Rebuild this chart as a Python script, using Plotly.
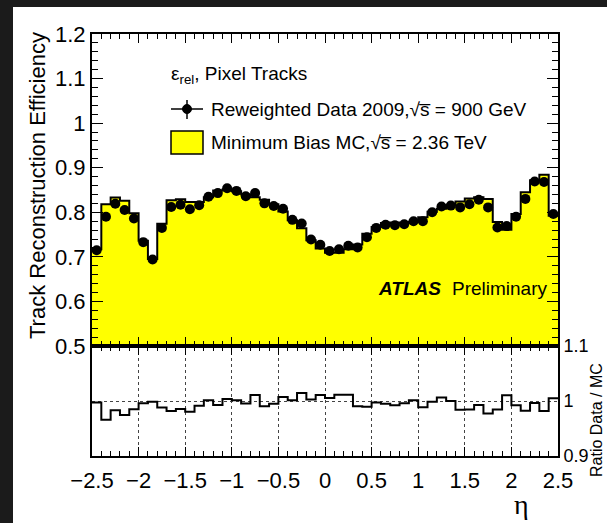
import plotly.graph_objects as go

# ---------------- data ----------------
bin_edges = [round(-2.5 + 0.1 * i, 2) for i in range(51)]
bin_centers = [round(-2.45 + 0.1 * i, 2) for i in range(50)]

data_eff = [0.715, 0.790, 0.819, 0.805, 0.786, 0.733, 0.694, 0.765, 0.812, 0.817,
            0.807, 0.816, 0.835, 0.843, 0.854, 0.848, 0.836, 0.843, 0.820, 0.814,
            0.808, 0.783, 0.775, 0.739, 0.727, 0.713, 0.717, 0.725, 0.721, 0.744,
            0.765, 0.772, 0.771, 0.773, 0.780, 0.780, 0.800, 0.813, 0.815, 0.811,
            0.818, 0.828, 0.811, 0.766, 0.769, 0.790, 0.830, 0.869, 0.868, 0.796]

mc_eff = [0.717, 0.818, 0.833, 0.826, 0.798, 0.736, 0.695, 0.774, 0.827, 0.829,
          0.823, 0.823, 0.834, 0.849, 0.851, 0.847, 0.840, 0.834, 0.828, 0.818,
          0.802, 0.782, 0.764, 0.737, 0.719, 0.709, 0.709, 0.717, 0.728, 0.752,
          0.767, 0.776, 0.777, 0.776, 0.779, 0.789, 0.801, 0.808, 0.815, 0.824,
          0.831, 0.834, 0.830, 0.778, 0.761, 0.796, 0.845, 0.872, 0.884, 0.792]

ratio = [d / m for d, m in zip(data_eff, mc_eff)]

main_ticks = [0.5, 0.6, 0.7, 0.8, 0.9, 1.0, 1.1, 1.2]
main_ticktext = ["0.5", "0.6", "0.7", "0.8", "0.9", "1", "1.1", "1.2"]
x_ticks = [-2.5, -2, -1.5, -1, -0.5, 0, 0.5, 1, 1.5, 2, 2.5]
x_ticktext = ["\u22122.5", "\u22122", "\u22121.5", "\u22121", "\u22120.5", "0",
              "0.5", "1", "1.5", "2", "2.5"]
ratio_ticks = [0.9, 1.0, 1.1]
ratio_ticktext = ["0.9", "1", "1.1"]

# ---------------- layout helpers ----------------
W, H = 607, 523
def px(x):
    return x / W
def py(y):
    return 1 - y / H

FONT = "Liberation Sans, Arial, Helvetica, sans-serif"
XL, XR = 92, 558
Y_TOP, Y_MID, Y_BOT = 34, 346, 456

fig = go.Figure()

# MC histogram (step, filled)
fig.add_trace(go.Scatter(
    x=bin_edges, y=mc_eff + [mc_eff[-1]],
    mode="lines", line=dict(shape="hv", color="black", width=2),
    fill="tozeroy", fillcolor="#ffff00",
    xaxis="x", yaxis="y", showlegend=False, hoverinfo="skip"))

# data points
fig.add_trace(go.Scatter(
    x=bin_centers, y=data_eff, mode="markers",
    marker=dict(color="black", size=10),
    xaxis="x", yaxis="y", showlegend=False))

# ratio
fig.add_trace(go.Scatter(
    x=bin_edges, y=ratio + [ratio[-1]],
    mode="lines", line=dict(shape="hv", color="black", width=2),
    xaxis="x2", yaxis="y2", showlegend=False))

xdom = [px(XL), px(XR)]
common_x = dict(range=[-2.5, 2.5], domain=xdom, showline=True, linecolor="black",
                linewidth=2, mirror="ticks", ticks="inside", ticklen=9,
                tickcolor="black", tickwidth=1, tickvals=x_ticks,
                minor=dict(ticks="inside", ticklen=5, dtick=0.1, tick0=-2.5,
                           tickcolor="black", tickwidth=1),
                zeroline=False, automargin=False)

fig.update_layout(
    width=W, height=H,
    margin=dict(l=0, r=0, t=0, b=0, autoexpand=False),
    paper_bgcolor="#1b1b1b", plot_bgcolor="white",
    font=dict(family=FONT, color="black"),
    xaxis=dict(common_x, anchor="y", showticklabels=False, showgrid=False),
    yaxis=dict(range=[0.5, 1.2], domain=[py(Y_MID), py(Y_TOP)], showline=True,
               linecolor="black", linewidth=2, mirror="ticks", ticks="inside",
               ticklen=11, tickcolor="black", tickwidth=1,
               tickvals=main_ticks, ticktext=main_ticktext,
               tickfont=dict(size=22, family=FONT, color="black"),
               minor=dict(ticks="inside", ticklen=6, dtick=0.02, tick0=0.5,
                          tickcolor="black", tickwidth=1),
               showgrid=False, zeroline=False, anchor="x", automargin=False),
    xaxis2=dict(common_x, anchor="y2", showticklabels=True, ticktext=x_ticktext,
                tickfont=dict(size=22, family=FONT, color="black"),
                ticklabelstandoff=4,
                showgrid=True, gridcolor="#444444", griddash="dot", gridwidth=1),
    yaxis2=dict(range=[0.9, 1.1], domain=[py(Y_BOT), py(Y_MID)], side="right",
                showline=True, linecolor="black", linewidth=2, mirror=True,
                ticks="", tickvals=ratio_ticks, ticktext=ratio_ticktext,
                tickfont=dict(size=18, family=FONT, color="black"),
                showgrid=True, gridcolor="#444444", griddash="dot", gridwidth=1,
                zeroline=False, anchor="x2", automargin=False),
)

shapes = []
# white canvas
shapes.append(dict(type="rect", xref="paper", yref="paper", layer="below",
                   x0=px(13), x1=px(W), y0=py(H), y1=py(7),
                   fillcolor="white", line=dict(width=0)))
# legend: data marker with error bar
shapes.append(dict(type="line", xref="paper", yref="paper",
                   x0=px(171), x1=px(203), y0=py(109), y1=py(109),
                   line=dict(color="black", width=1.5)))
shapes.append(dict(type="line", xref="paper", yref="paper",
                   x0=px(187), x1=px(187), y0=py(100), y1=py(119),
                   line=dict(color="black", width=1.5)))
shapes.append(dict(type="circle", xref="paper", yref="paper",
                   x0=px(182.5), x1=px(191.5), y0=py(104.5), y1=py(113.5),
                   fillcolor="black", line=dict(color="black", width=1)))
# legend: MC box
shapes.append(dict(type="rect", xref="paper", yref="paper",
                   x0=px(171), x1=px(203), y0=py(154), y1=py(131),
                   fillcolor="#ffff00", line=dict(color="black", width=1.5)))
fig.update_layout(shapes=shapes)

ann = []
def text(x, y, s, size=19, xanchor="left", angle=0, family=FONT):
    ann.append(dict(xref="paper", yref="paper", x=px(x), y=py(y), text=s,
                    showarrow=False, xanchor=xanchor, yanchor="middle",
                    textangle=angle, font=dict(size=size, family=family, color="black")))

text(169, 75, "\u03b5<sub>rel</sub>, Pixel Tracks")
text(209, 109, "Reweighted Data 2009,\u221as\u0305 = 900 GeV")
text(209, 142, "Minimum Bias MC,\u221as\u0305 = 2.36 TeV")
text(376, 288, "<b><i>ATLAS</i></b>")
text(450, 288, "Preliminary")
text(38, 186, "Track Reconstruction Efficiency", size=22, xanchor="center", angle=-90)
text(521, 504, "\u03b7", size=28, xanchor="center", family="Liberation Serif, DejaVu Serif, serif")
text(596, 420, "Ratio Data / MC", size=16, xanchor="center", angle=-90)
fig.update_layout(annotations=ann)

fig.write_html("out.html")
